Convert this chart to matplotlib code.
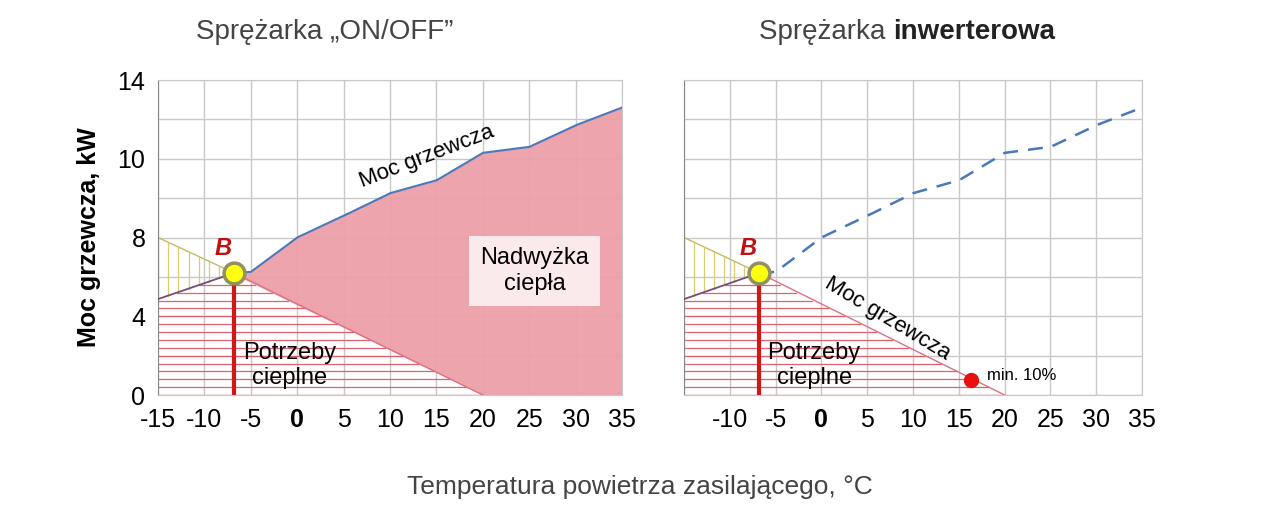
import numpy as np
import matplotlib
matplotlib.use("Agg")
import matplotlib.pyplot as plt

plt.rcParams['font.family'] = 'Liberation Sans'

# Data (internal y units: gridline every 2; tick labels relabelled as in original)
temps = [-15, -6.8, -5, 0, 5, 10, 15, 20, 25, 30, 35]
heat = [4.87, 6.2, 6.25, 8.0, 9.1, 10.25, 10.9, 12.3, 12.6, 13.7, 14.6]
demand_t = [-15, 20]
demand_v = [8.0, 0.0]
b_point = (-6.8, 6.2)
min_point = (16.3, 0.76)
ytick_pos = [0, 4, 8, 12, 16]
ytick_lab = ['0', '4', '8', '10', '14']
xticks = [-15, -10, -5, 0, 5, 10, 15, 20, 25, 30, 35]

fig = plt.figure(figsize=(12.8, 5.32), dpi=100)
axL = fig.add_axes([0.1234, 0.2575, 0.3626, 0.5921])
axR = fig.add_axes([0.5344, 0.2575, 0.3578, 0.5921])

x = np.linspace(-15, 35, 4001)
h = np.interp(x, temps, heat)
d = np.clip(np.interp(x, demand_t, demand_v, right=0), 0, None)

for ax, inverter in [(axL, False), (axR, True)]:
    ax.set_xlim(-15, 35)
    ax.set_ylim(0, 16)
    ax.set_xticks(xticks)
    ax.set_yticks(ytick_pos)
    ax.set_yticks(np.arange(0, 16.01, 2), minor=True)
    ax.grid(True, which='both', color='#c8c8c8', lw=1)
    ax.set_axisbelow(True)
    for s in ['top', 'right', 'bottom']:
        ax.spines[s].set_color('#c8c8c8')
    ax.spines['left'].set_color('#888888')
    ax.tick_params(axis='both', which='both', length=0, labelsize=18, pad=9)
    lower = np.minimum(h, d)
    m = x <= 20
    # red horizontal hatch lines
    for lvl in np.arange(0.0, 6.2, 0.4):
        sel = x[m][lower[m] >= lvl]
        if sel.size:
            ax.plot([sel.min(), sel.max()], [lvl, lvl], color='#e06070', lw=0.9, zorder=2.5)
    # yellow vertical hatch lines
    for xv in np.arange(-15, b_point[0], 1.1):
        hv = np.interp(xv, temps, heat)
        dv = np.interp(xv, demand_t, demand_v)
        ax.plot([xv, xv], [hv, dv], color='#d8cc70', lw=0.9, zorder=2.5)
    mb = x <= b_point[0]
    ax.plot([-15, b_point[0]], [8, b_point[1]], color='#c8b860', lw=1)
    ax.plot(x[mb], h[mb], color='#7a4a7a', lw=1.3, zorder=3)
    ax.plot([b_point[0], 20], [b_point[1], 0], color='#e07080', lw=1, zorder=3)
    ax.plot([b_point[0]] * 2, [0, b_point[1]], color='#d01818', lw=3, zorder=4)
    ax.text(b_point[0] - 1.2, b_point[1] + 0.9, 'B', color='#c01010', fontsize=17,
            fontweight='bold', style='italic', ha='center')
    mr = x >= b_point[0]
    if not inverter:
        ax.fill_between(x[mr], d[mr], h[mr], color='#ec9fa8', lw=0, alpha=0.95, zorder=2)
        ax.plot(x[mr], h[mr], color='#4a78b8', lw=1.5, zorder=3)
        ax.text(14, 12.1, 'Moc grzewcza', rotation=21, fontsize=16, ha='center', va='center')
        ax.text(25.6, 6.3, 'Nadwyżka\nciepła', fontsize=17, ha='center', va='center',
                bbox=dict(facecolor='#fbeaec', edgecolor='none', pad=8), zorder=5)
    else:
        ax.plot(x[mr], h[mr], color='#4a78b8', lw=1.8, ls=(0, (6, 4)), zorder=3)
        ax.text(7.2, 3.9, 'Moc grzewcza', rotation=-31, fontsize=16, ha='center', va='center')
        ax.plot(*min_point, 'o', color='#e81010', ms=10, zorder=5)
        ax.text(min_point[0] + 1.8, min_point[1] + 0.25, 'min. 10%', fontsize=12, va='center')
    ax.text(-0.8, 1.5, 'Potrzeby\ncieplne', fontsize=17, ha='center', va='center', zorder=5)
    ax.plot(*b_point, 'o', ms=15, mfc='#ffff10', mec='#909060', mew=2.5, zorder=6)
    labs = [str(t) for t in xticks]
    if inverter:
        labs[0] = ''
    ax.set_xticklabels(labs)
    for lab in ax.get_xticklabels():
        if lab.get_text() == '0':
            lab.set_fontweight('bold')

axL.set_yticklabels(ytick_lab)
axR.set_yticklabels([])
axL.set_ylabel('Moc grzewcza, kW', fontsize=18, fontweight='bold', labelpad=12)

fig.text(0.254, 0.94, 'Sprężarka „ON/OFF”', fontsize=20, color='#444444', ha='center', va='center')
fig.text(0.698, 0.94, 'Sprężarka ', fontsize=20, color='#444444', ha='right', va='center')
fig.text(0.698, 0.94, 'inwerterowa', fontsize=20, color='#222222', ha='left', va='center',
         fontweight='bold')
fig.text(0.5, 0.085, 'Temperatura powietrza zasilającego, °C', fontsize=19, color='#444444',
         ha='center', va='center')

fig.savefig('out.png', dpi=100)
